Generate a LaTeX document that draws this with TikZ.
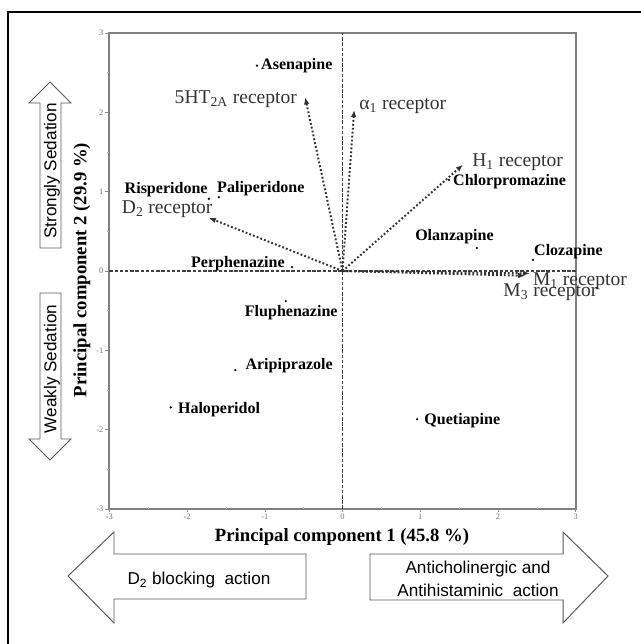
\documentclass[tikz,border=0pt]{standalone}
\usepackage{fontspec}
\setmainfont{Liberation Serif}
\setsansfont{Liberation Sans}
\usetikzlibrary{arrows.meta}
\tikzset{
  drug/.style={font=\fontsize{11.4}{13}\selectfont\bfseries, inner sep=0pt},
  recep/.style={font=\fontsize{13.9}{16}\selectfont, text=black!80, inner sep=0pt},
  dot/.style={circle, fill=black, inner sep=0pt, minimum size=1.8pt},
  loading/.style={line width=1.4pt, draw=black!80, dash pattern=on 1.3pt off 1.5pt,
    -{Latex[length=5pt,width=4pt]}},
  bigarrow/.style={draw=black!65, line width=0.7pt, fill=white},
  side/.style={font=\sffamily\fontsize{12.2}{16.3}\selectfont, inner sep=0pt},
  ticklab/.style={font=\fontsize{6}{7}\selectfont, text=black!55, inner sep=0pt},
  axlab/.style={font=\fontsize{13.3}{15}\selectfont\bfseries, inner sep=0pt},
}
\begin{document}
\begin{tikzpicture}[x=0.025cm, y=-0.025cm]
  \useasboundingbox (0,0) rectangle (640,644);

  % Drawing outer frame
  \draw [line width=0.8pt] (8,12) rectangle (660,664);

  % Drawing sedation arrows
  \draw [bigarrow] (50,82) -- (71,103) -- (61,103) -- (61,248) -- (40,248) -- (40,103) -- (29,103) -- cycle;
  \node [side, rotate=90] (strong) at (52,171) {Strongly Sedation};
  \draw [bigarrow] (40,293) -- (61,293) -- (61,439) -- (71,439) -- (50,460) -- (29,439) -- (40,439) -- cycle;
  \node [side, rotate=90] (weak) at (52,369) {Weakly Sedation};

  % Drawing action arrows
  \draw [bigarrow] (68,576) -- (114,532) -- (114,554) -- (306,554) -- (306,599) -- (114,599) -- (114,623) -- cycle;
  \node [side] (dblock) at (199,580) {D\textsubscript{2} blocking\ \ action};
  \draw [bigarrow] (370,554) -- (563,554) -- (563,532) -- (608,576) -- (563,623) -- (563,600) -- (370,600) -- cycle;
  \node [side, align=center] (antich) at (478,579) {Anticholinergic and\\Antihistaminic\ \ action};

  % Axis titles
  \node [axlab] (xtitle) at (342,537) {Principal component 1 (45.8 \%)};
  \node [axlab, rotate=90] (ytitle) at (82,270) {Principal component 2 (29.9 \%)};

  \coordinate (O) at (342.5,271);
  \begin{scope}[shift={(O)}, x=1.9425cm, y=1.9825cm]
    % Drawing plot frame and ticks
    \draw [black!50, line width=1.2pt] (-3,-3) rectangle (3,3);
    \foreach \v in {-3,...,3} {
      \draw [black!45, line width=0.4pt] ([xshift=-3pt]-3,\v) -- (-3,\v);
      \node [ticklab, anchor=east] (ty\v) at ([xshift=-4pt]-3,\v) {\v};
      \draw [black!45, line width=0.4pt] ([yshift=-2pt]\v,-3) -- (\v,-3);
      \node [ticklab, anchor=north] (tx\v) at ([yshift=-3pt]\v,-3) {\v};
    }
    \foreach \v in {-2.5,-1.5,-0.5,0.5,1.5,2.5} {
      \draw [black!30, line width=0.4pt] ([xshift=-2pt]-3,\v) -- (-3,\v);
      \draw [black!30, line width=0.4pt] (\v,-3) -- ([yshift=1.5pt]\v,-3);
    }

    % Drawing zero lines
    \draw [black!75, line width=0.9pt, dash pattern=on 2.5pt off 1.2pt] (-3,0) -- (3,0);
    \draw [black!75, line width=0.9pt, dash pattern=on 2.5pt off 1.2pt] (0,-3) -- (0,3);

    % Drawing receptor loadings
    \coordinate (c) at (0,0);
    \coordinate (ht2a) at (-0.48,2.19);
    \coordinate (alpha) at (0.15,2.03);
    \coordinate (hone) at (1.55,1.34);
    \coordinate (dtwo) at (-1.72,0.67);
    \coordinate (mone) at (2.41,-0.03);
    \coordinate (mthree) at (2.35,-0.06);
    \draw [loading] (c) -- (ht2a);
    \draw [loading] (c) -- (alpha);
    \draw [loading] (c) -- (hone);
    \draw [loading] (c) -- (dtwo);
    \draw [loading] (c) -- (mthree);
    \draw [loading] (c) -- (mone);
    \node [recep, anchor=east] (ht2aL) at ([xshift=-5.7pt, yshift=-1.4pt]ht2a) {5HT\textsubscript{2A} receptor};
    \node [recep, anchor=west] (alphaL) at ([xshift=3.5pt, yshift=2.8pt]alpha) {α\textsubscript{1} receptor};
    \node [recep, anchor=west] (honeL) at ([xshift=6.4pt, yshift=2.1pt]hone) {H\textsubscript{1} receptor};
    \node [recep, anchor=east] (dtwoL) at ([xshift=2.8pt, yshift=6.4pt]dtwo) {D\textsubscript{2} receptor};
    \node [recep, anchor=west] (moneL) at ([xshift=2.1pt, yshift=-5.7pt]mone) {M\textsubscript{1} receptor};
    \node [recep, anchor=west] (mthreeL) at ([xshift=-15.6pt, yshift=-12pt]mthree) {M\textsubscript{3} receptor};

    % Marking drugs
    \node [dot] (asen) at (-1.10,2.59) {};
    \node [drug, anchor=west] (asenL) at ([xshift=2.8pt]asen) {Asenapine};
    \node [dot] (risp) at (-1.72,0.91) {};
    \node [drug, anchor=east] (rispL) at ([xshift=-0.7pt, yshift=6.4pt]risp) {Risperidone};
    \node [dot] (pali) at (-1.59,0.93) {};
    \node [drug, anchor=west] (paliL) at ([xshift=-1.4pt, yshift=6.4pt]pali) {Paliperidone};
    \node [dot] (perph) at (-0.65,0.05) {};
    \node [drug, anchor=east] (perphL) at ([xshift=-5pt, yshift=2.1pt]perph) {Perphenazine};
    \node [dot] (fluph) at (-0.73,-0.38) {};
    \node [drug] (fluphL) at ([xshift=3.9pt, yshift=-8.5pt]fluph) {Fluphenazine};
    \node [dot] (aripi) at (-1.38,-1.25) {};
    \node [drug, anchor=west] (aripiL) at ([xshift=7.1pt, yshift=3.5pt]aripi) {Aripiprazole};
    \node [dot] (halo) at (-2.21,-1.72) {};
    \node [drug, anchor=west] (haloL) at ([xshift=5pt, yshift=-1.4pt]halo) {Haloperidol};
    \node [dot] (quet) at (0.96,-1.87) {};
    \node [drug, anchor=west] (quetL) at ([xshift=5pt, yshift=-0.7pt]quet) {Quetiapine};
    \node [dot] (chlor) at (1.37,1.15) {};
    \node [drug, anchor=west] (chlorL) at ([xshift=2.8pt, yshift=-1.4pt]chlor) {Chlorpromazine};
    \node [dot] (olan) at (1.73,0.29) {};
    \node [drug] (olanL) at ([xshift=-16pt, yshift=7.8pt]olan) {Olanzapine};
    \node [dot] (cloz) at (2.45,0.14) {};
    \node [drug, anchor=west] (clozL) at ([xshift=0.7pt, yshift=5.7pt]cloz) {Clozapine};
  \end{scope}
\end{tikzpicture}
\end{document}
